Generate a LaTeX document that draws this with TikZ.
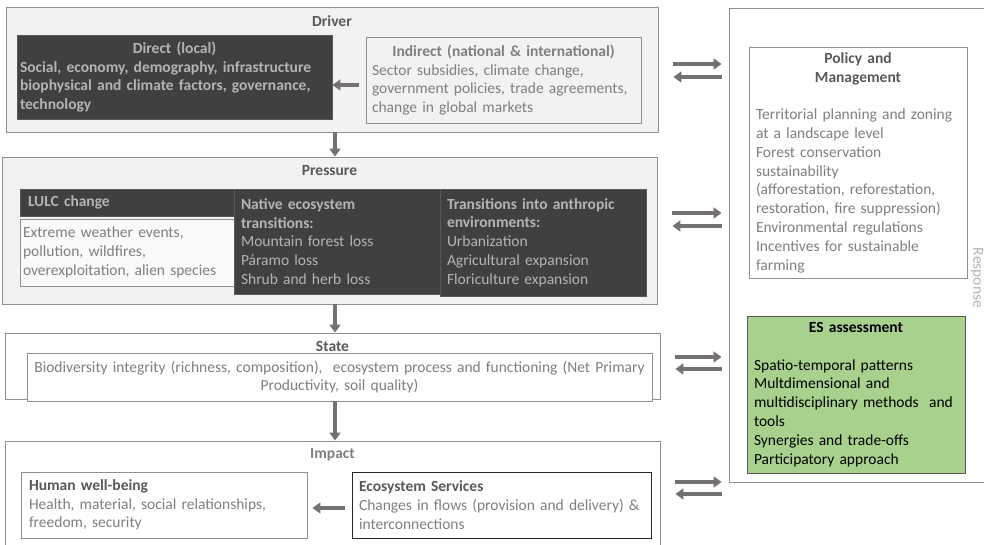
\documentclass[tikz,border=0pt]{standalone}
\usepackage{fontspec}
\setmainfont{Carlito}
\usetikzlibrary{arrows.meta,positioning,calc}

\definecolor{panelgray}{HTML}{F2F2F2}
\definecolor{linegray}{HTML}{8F8F8F}
\definecolor{textgray}{HTML}{7F7F7F}
\definecolor{headgray}{HTML}{595959}
\definecolor{darkfill}{HTML}{404040}
\definecolor{darktext}{HTML}{B4B4B4}
\definecolor{arrowgray}{HTML}{767171}
\definecolor{esgreen}{HTML}{A9D18E}

\newcommand{\txt}{\fontsize{15.5}{18.8}\selectfont}
\newcommand{\hd}[1]{{\color{headgray}\bfseries #1}}

\tikzset{
		block/.style    = {shape=rectangle, draw=linegray, line width=0.9pt, inner sep=0pt},
		panel/.style    = {block, fill=panelgray},
		whitebox/.style = {block, fill=white, align=left, font=\txt,
				text=textgray, inner xsep=8pt},
		darkbox/.style  = {block, draw=headgray, fill=darkfill, align=left,
				font=\txt, text=darktext, inner xsep=7pt},
		heading/.style  = {inner sep=0pt, font=\txt\bfseries, text=headgray},
		flow/.style     = {draw=arrowgray, line width=3.5pt,
				-{Triangle[length=8pt,width=11pt]}}
	}

\begin{document}
\begin{tikzpicture}[x=1pt, y=-1pt]
	\useasboundingbox (0,0) rectangle (984,545);

	% driver
	\node[panel, minimum width=652pt, minimum height=125pt] (driver) at (332,69.5) {};
	\node[heading, below=9pt of driver.north] (drivertitle) {Driver};
	\node[darkbox, font=\txt\bfseries, text width=309pt, inner xsep=3pt, minimum height=84pt] (direct) at (174.5,77)
		{{\centering Direct (local)\par}
		Social, economy, demography, infrastructure\\
		biophysical and climate factors, governance,\\
		technology};
	\node[whitebox, fill=panelgray, text width=263pt, inner xsep=6pt, minimum height=86pt] (indirect) at (503.5,80)
		{{\centering\bfseries Indirect (national \& international)\par}
		Sector subsidies, climate change,\\
		government policies, trade agreements,\\
		change in global markets};

	% pressure
	\node[panel, minimum width=655pt, minimum height=147pt] (pressure) at (329.5,230.5) {};
	\node[heading, below=9pt of pressure.north] (pressuretitle) {Pressure};
	\node[darkbox, font=\txt\bfseries, text width=198pt, inner xsep=8pt, minimum height=27pt] (lulc) at (127,202.5) {LULC change};
	\node[whitebox, fill=panelgray!40, text width=208pt, inner xsep=3pt, minimum height=67pt] (extreme) at (127,252.5)
		{Extreme weather events,\\
		pollution, wildfires,\\
		overexploitation, alien species};
	\node[darkbox, text width=192pt, minimum height=105pt] (native) at (337,241.5)
		{\textbf{Native ecosystem}\\
		\textbf{transitions:}\\
		Mountain forest loss\\
		Páramo loss\\
		Shrub and herb loss};
	\node[darkbox, text width=192pt, minimum height=107pt] (anthropic) at (543,242.5)
		{\textbf{Transitions into anthropic}\\
		\textbf{environments:}\\
		Urbanization\\
		Agricultural expansion\\
		Floriculture expansion};

	% state
	\node[block, fill=white, minimum width=655pt, minimum height=66pt] (state) at (332.5,366) {};
	\node[block, fill=white, align=center, font=\txt, text=textgray, text width=625pt, minimum height=48pt] (condition) at (339.5,377)
		{Biodiversity integrity (richness, composition),\ \ ecosystem process and functioning (Net Primary\\
		Productivity, soil quality)};
	\node[heading, below=9pt of state.north] (statetitle) {State};

	% impact
	\node[block, fill=white, minimum width=655pt, minimum height=110pt] (impact) at (332.5,496) {};
	\node[heading, text=textgray, below=8pt of impact.north] (impacttitle) {Impact};
	\node[whitebox, text width=270pt, minimum height=66pt] (human) at (164,505)
		{\hd{Human well-being}\\
		Health, material, social relationships,\\
		freedom, security};
	\node[whitebox, draw=black!85, text width=285pt, inner xsep=7pt, minimum height=66pt] (services) at (501.5,505)
		{\hd{Ecosystem Services}\\
		Changes in flows (provision and delivery) \&\\
		interconnections};

	% response
	\node[block, fill=white, minimum width=271pt, minimum height=474pt] (response) at (864.5,245) {};
	\node[whitebox, text width=204pt, inner xsep=7pt, minimum height=231pt] (policy) at (858,162.5)
		{{\centering\hd{Policy and}\\ \hd{Management}\par}
		\mbox{}\\
		Territorial planning and zoning\\
		at a landscape level\\
		Forest conservation\\
		sustainability\\
		(afforestation, reforestation,\\
		restoration, fire suppression)\\
		Environmental regulations\\
		Incentives for sustainable\\
		farming};
	\node[whitebox, draw=headgray, fill=esgreen, text=black, text width=204pt, inner xsep=7pt, minimum height=157pt] (esa) at (856,394.5)
		{{\centering\bfseries ES assessment\par}
		\mbox{}\\
		Spatio-temporal patterns\\
		Multdimensional and\\
		multidisciplinary methods\ \ and\\
		tools\\
		Synergies and trade-offs\\
		Participatory approach};
	\node[font=\txt, text=darktext, rotate=-90] (responselabel) at (977,278) {Response};

	% arrows
	\coordinate (spine) at (335,0);
	\draw[flow] (driver.south -| spine) -- (pressure.north -| spine);
	\draw[flow] (pressure.south -| spine) -- (state.north -| spine);
	\draw[flow] (condition.south -| spine) -- (impact.north -| spine);
	\draw[flow] ($(indirect.west)+(-7,5)$) -- ($(indirect.west -| direct.east)+(0,5)$);
	\draw[flow] ($(services.west)+(-7,3)$) -- ($(services.west -| human.east)+(5,3)$);
	\foreach \blk/\up/\dn in {driver/-5.5/7.5, pressure/-17.5/-4.5, state/-9/3, impact/-14/-2}{
		\draw[flow] ($(\blk.east)+(15,\up)$) -- ($(\blk.east -| response.west)+(-7,\up)$);
		\draw[flow] ($(\blk.east -| response.west)+(-7,\dn)$) -- ($(\blk.east)+(15,\dn)$);
	}
\end{tikzpicture}
\end{document}
